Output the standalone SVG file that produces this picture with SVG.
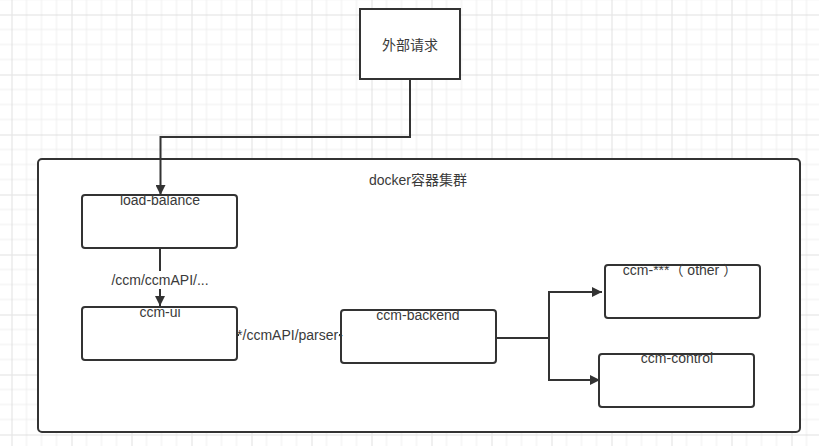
<svg xmlns="http://www.w3.org/2000/svg" width="819" height="446" viewBox="0 0 819 446">
<defs>
<pattern id="grid" x="11.5" y="14.5" width="60" height="60" patternUnits="userSpaceOnUse">
<path d="M15 0V60M30 0V60M45 0V60M0 15H60M0 30H60M0 45H60" stroke="#eeeeee" stroke-width="1" fill="none"/>
<path d="M0 0V60M0 0H60" stroke="#e0e0e0" stroke-width="1" fill="none" transform="translate(0.5,0.5)"/>
</pattern>
<marker id="arr" viewBox="0 0 10 10" refX="10" refY="5" markerWidth="11" markerHeight="10" markerUnits="userSpaceOnUse" orient="auto">
<path d="M0 0L10 5L0 10Z" fill="#333"/>
</marker>
<style>
.box{fill:#fff;stroke:#333;stroke-width:2}
.t{font-family:"Liberation Sans","Noto Sans CJK SC",sans-serif;font-size:14px;fill:#3a3a3a;text-anchor:middle}
.c{fill:none;stroke:#333;stroke-width:2}
</style>
</defs>
<rect width="819" height="446" fill="#fff"/>
<rect width="819" height="446" fill="url(#grid)"/>
<g id="cluster">
<rect class="box" x="38" y="159" width="762" height="273" rx="4"/>
<text class="t" x="418" y="185">docker容器集群</text>
</g>
<g id="external">
<rect class="box" x="360" y="9" width="100" height="70"/>
<text class="t" x="410" y="50">外部请求</text>
</g>
<g id="load-balance">
<rect class="box" x="82" y="195" width="155" height="53" rx="3"/>
<text class="t" x="160" y="205">load-balance</text>
</g>
<g id="ccm-ui">
<rect class="box" x="82" y="307" width="155" height="53" rx="3"/>
<text class="t" x="160" y="317">ccm-ui</text>
</g>
<g id="ccm-backend">
<rect class="box" x="341" y="310" width="155" height="53" rx="3"/>
<text class="t" x="418" y="320">ccm-backend</text>
</g>
<g id="ccm-other">
<rect class="box" x="605" y="265" width="155" height="53" rx="3"/>
<text class="t" x="680" y="275">ccm-***（ other ）</text>
</g>
<g id="ccm-control">
<rect class="box" x="599" y="354" width="155" height="53" rx="3"/>
<text class="t" x="677" y="363">ccm-control</text>
</g>
<g id="connectors">
<path class="c" d="M410 79V137H160.5V195" marker-end="url(#arr)"/>
<path class="c" d="M160 248V306" marker-end="url(#arr)"/>
<rect x="110" y="271" width="100" height="18" fill="#fff"/>
<text class="t" x="160" y="285">/ccm/ccmAPI/...</text>
<path class="c" d="M237 335H340"/>
<rect x="239" y="327" width="100" height="17" fill="#fff"/>
<text class="t" x="290" y="340">*/ccmAPI/parser-</text>
<path class="c" d="M496 338H549V292H602" marker-end="url(#arr)"/>
<path class="c" d="M549 338V380H600" marker-end="url(#arr)"/>
</g>
</svg>
